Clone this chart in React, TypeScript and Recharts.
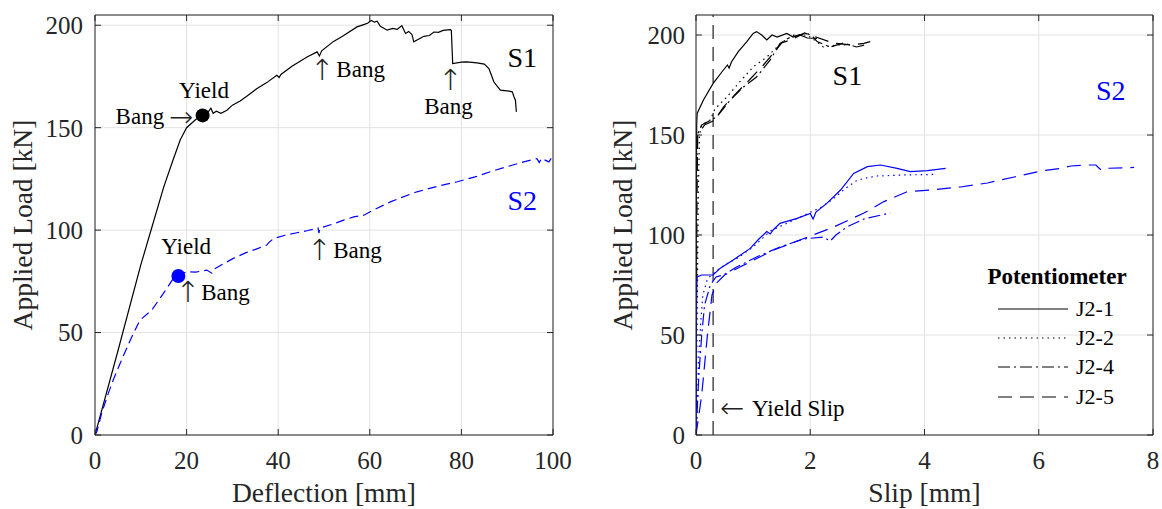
import React from 'react'
import {
  LineChart,
  Line,
  XAxis,
  YAxis,
  CartesianGrid,
  ReferenceDot,
  ReferenceLine,
  Legend,
} from 'recharts'

type Pt = [number, number]

// axis ticks
const DEFL_TICKS = [0, 20, 40, 60, 80, 100]
const LOAD_TICKS = [0, 50, 100, 150, 200]
const SLIP_TICKS = [0, 2, 4, 6, 8]

// left panel: load vs mid-span deflection
const S1_DEFL: Pt[] = [
  [0, 0], [5, 41], [10, 83], [12.5, 102], [15, 121], [17, 134], [18.6, 144], [20, 150],
  [22, 154], [23.5, 156], [24.5, 157], [25.3, 159.5], [25.8, 157], [26.5, 158], [27.5, 157],
  [28.8, 158.5], [30, 161], [31.7, 163], [33.5, 166], [35.3, 169], [37.5, 172], [39.7, 175.6],
  [40.2, 174.5], [40.6, 176], [43, 180], [46.3, 184.5], [48.5, 187], [49, 185], [49.5, 187.5],
  [52, 192], [54.3, 195], [57.2, 199.2], [58.5, 200.2], [59.5, 201], [60.3, 202.3], [61, 201.5],
  [61.6, 202], [62.3, 199.5], [63.8, 197.6], [65, 198.5], [66, 198], [67, 199.8], [67.8, 196],
  [68.5, 197], [69.2, 195.5], [69.6, 191.9], [71.8, 194.6], [73, 195], [74, 196.7], [75, 196.5],
  [76, 197.5], [77.6, 197.9], [77.8, 197.5], [78.1, 181.3], [80, 182], [81.2, 182.1],
  [83.4, 181.6], [85, 181], [86, 178.9], [86.5, 176], [87.1, 172.3], [88.5, 168.3], [90, 168],
  [91.1, 167.5], [91.5, 165], [91.8, 163.4], [92, 157.7],
]
const S2_DEFL: Pt[] = [
  [0, 0], [0.4, 1.6], [1.5, 11], [2.9, 20.3], [4, 27], [5.5, 35], [7.7, 46.3], [9.8, 56],
  [12.4, 61], [14.9, 69], [17.1, 76.4], [18.2, 77.6], [20, 79.7], [22, 79.5], [24.4, 80.5],
  [25.5, 79], [26, 81], [28, 83.5], [30.2, 86.2], [33, 89], [35.5, 91], [37.5, 92.7], [38, 94],
  [39, 95.9], [41.5, 97.5], [44.1, 98.7], [46.5, 99.8], [48.7, 101], [48.9, 98.5], [49.1, 101],
  [52, 103], [54.3, 104.9], [56.5, 106.5], [58.7, 107.3], [61, 110], [64.5, 113.8], [67, 116],
  [70.3, 118.7], [75, 121.5], [79.1, 123.6], [83, 126], [86.3, 128.5], [90, 131], [93.6, 133.3],
  [96.5, 134.9], [97, 133], [97.5, 135], [99.1, 133.3], [99.6, 135],
]
const S1_YIELD: Pt = [23.5, 156]
const S2_YIELD: Pt = [18.2, 77.6]

// right panel: load vs slip, potentiometers J2-1, J2-2, J2-4, J2-5
const S1_J21: Pt[] = [
  [0, 0], [0.004, 80], [0.008, 140], [0.012, 155], [0.02, 160.8], [0.13, 167.5], [0.3, 175.8],
  [0.48, 182.5], [0.55, 185], [0.58, 183.5], [0.62, 186.5], [0.74, 191.7], [0.89, 196.7],
  [1.0, 200.8], [1.06, 201.7], [1.15, 200], [1.24, 197.5], [1.33, 200], [1.42, 199],
  [1.59, 200.8], [1.7, 199], [1.82, 200], [1.95, 198.5], [2.12, 198.3],
]
const S1_J22: Pt[] = [
  [0, 0], [0.02, 60], [0.04, 120], [0.06, 150], [0.1, 155], [0.25, 157.5], [0.33, 163],
  [0.54, 169], [0.77, 176.7], [1.0, 184], [1.24, 189], [1.42, 194], [1.53, 196.7], [1.71, 200],
  [1.94, 200], [2.1, 197], [2.23, 194], [2.47, 195], [2.7, 195],
]
const S1_J24: Pt[] = [
  [0, 0], [0.01, 100], [0.02, 150], [0.1, 155], [0.36, 159], [0.6, 167.5], [0.83, 174],
  [1.06, 179], [1.3, 187.5], [1.47, 195.8], [1.65, 199], [1.8, 200], [1.94, 201], [2.05, 199],
  [2.12, 196.7], [2.35, 194], [2.58, 196], [2.81, 194], [2.95, 195],
]
const S1_J25: Pt[] = [
  [0, 0], [0.015, 120], [0.03, 150], [0.15, 155], [0.33, 157.5], [0.48, 164], [0.71, 171],
  [0.95, 178], [1.18, 185], [1.36, 191], [1.5, 196], [1.7, 198], [1.9, 201], [2.1, 199],
  [2.4, 196], [2.7, 195], [2.94, 195.8], [3.05, 196.7],
]
const S2_J21: Pt[] = [
  [0, 0], [0.005, 40], [0.01, 70], [0.02, 79], [0.1, 80], [0.3, 80], [0.42, 83.3], [0.65, 87.5],
  [0.95, 93.3], [1.1, 98], [1.24, 101.7], [1.3, 100.5], [1.35, 102.5], [1.47, 105.8],
  [1.77, 108.3], [2.0, 110.8], [2.05, 108], [2.1, 111.5], [2.29, 115.8], [2.53, 122.5],
  [2.76, 130.8], [3.0, 134.2], [3.23, 135], [3.52, 133.3], [3.75, 131.7], [4.05, 132.2],
  [4.37, 133.3],
]
const S2_J22: Pt[] = [
  [0, 0], [0.03, 20], [0.05, 40], [0.08, 55], [0.12, 70], [0.2, 78], [0.35, 82], [0.5, 85],
  [0.7, 88], [1.0, 94], [1.3, 102], [1.6, 106], [1.9, 110], [2.2, 114], [2.4, 118], [2.6, 123],
  [2.8, 127], [2.94, 128.3], [3.17, 129.5], [3.6, 130], [4.19, 130.3],
]
const S2_J24: Pt[] = [
  [0, 0], [0.05, 30], [0.1, 50], [0.15, 65], [0.25, 75], [0.35, 79], [0.48, 80], [0.71, 84],
  [1.06, 89], [1.47, 94], [1.88, 98], [2.23, 99], [2.35, 97], [2.45, 100], [2.64, 104],
  [2.94, 108], [3.4, 111],
]
const S2_J25: Pt[] = [
  [0, 0], [0.1, 20], [0.2, 50], [0.28, 70], [0.36, 76], [0.5, 80], [0.77, 84], [1.36, 92.5],
  [1.82, 97.5], [2.41, 104], [2.94, 111], [3.29, 116.7], [3.7, 121.7], [4.1, 122.5], [4.63, 124],
  [5.1, 126], [5.57, 129], [6.04, 132], [6.39, 133.3], [6.56, 134.5], [6.85, 135], [7.0, 135],
  [7.09, 132.5], [7.15, 133.3], [7.67, 133.8],
]
const YIELD_SLIP = 0.3

const POT_NAMES = ['J2-1', 'J2-2', 'J2-4', 'J2-5']
const POT_DASH = [undefined, '1.5 4', '12 4 2 4', '14 8']
const S1_SLIP = [S1_J21, S1_J22, S1_J24, S1_J25]
const S2_SLIP = [S2_J21, S2_J22, S2_J24, S2_J25]

const FONT = '"Liberation Serif", "Times New Roman", serif'
const ARROW_FONT = '"DejaVu Sans", sans-serif'
const AXIS = '#262626'
const BLUE = '#0000ff'

const rows = (pts: Pt[]) => pts.map(([x, y]) => ({ x, y }))

const xTitle = (text: string) => (props: any) => {
  const vb = props.viewBox || { x: 0, y: 0, width: 0, height: 0 }
  return (
    <text x={vb.x + vb.width / 2} y={vb.y + 67} textAnchor="middle" fontSize={27.5} fill={AXIS} fontFamily={FONT}>
      {text}
    </text>
  )
}

const yTitle = (text: string, dx: number) => (props: any) => {
  const vb = props.viewBox || { x: 0, y: 0, width: 0, height: 0 }
  const cx = vb.x + dx
  const cy = vb.y + vb.height / 2
  return (
    <text
      x={cx}
      y={cy}
      transform={`rotate(-90 ${cx} ${cy})`}
      textAnchor="middle"
      dominantBaseline="central"
      fontSize={27.5}
      fill={AXIS}
      fontFamily={FONT}
    >
      {text}
    </text>
  )
}

function frame(xTicks: number[], xMax: number, yMax: number, xLabel: string, yLabel: string, yW: number, yDx: number, yMargin: number) {
  const tick = { fontSize: 25, fill: AXIS, fontFamily: FONT }
  const line = { stroke: AXIS, strokeWidth: 1 }
  return [
    <CartesianGrid key="grid" stroke="#e2e2e2" strokeWidth={1} />,
    <XAxis
      key="xb"
      type="number"
      dataKey="x"
      domain={[0, xMax]}
      ticks={xTicks}
      allowDataOverflow
      height={74}
      tickSize={-6}
      tickMargin={22}
      tick={tick}
      axisLine={line}
      tickLine={line}
      label={xTitle(xLabel)}
    />,
    <XAxis
      key="xt"
      xAxisId="top"
      orientation="top"
      type="number"
      dataKey="x"
      domain={[0, xMax]}
      ticks={xTicks}
      allowDataOverflow
      height={1}
      tickSize={-6}
      tickFormatter={() => ''}
      axisLine={line}
      tickLine={line}
    />,
    <YAxis
      key="yl"
      type="number"
      domain={[0, yMax]}
      ticks={LOAD_TICKS}
      allowDataOverflow
      width={yW}
      tickSize={-6}
      tickMargin={yMargin}
      tick={tick}
      axisLine={line}
      tickLine={line}
      label={yTitle(yLabel, yDx)}
    />,
    <YAxis
      key="yr"
      yAxisId="right"
      orientation="right"
      type="number"
      domain={[0, yMax]}
      ticks={LOAD_TICKS}
      allowDataOverflow
      width={1}
      tickSize={-6}
      tickFormatter={() => ''}
      axisLine={line}
      tickLine={line}
    />,
  ]
}

function note(
  key: string,
  at: Pt,
  text: string,
  color = '#000',
  pos: 'center' | 'left' | 'right' = 'center',
  size = 23,
  family = FONT,
  weight: number | string = 'normal',
) {
  return (
    <ReferenceDot
      key={key}
      x={at[0]}
      y={at[1]}
      r={0}
      fill="none"
      stroke="none"
      label={{ value: text, position: pos, offset: 0, fill: color, fontSize: size, fontFamily: family, fontWeight: weight }}
    />
  )
}

const arrow = (key: string, at: Pt, glyph: string) => note(key, at, glyph, '#222', 'center', 29, ARROW_FONT, 200)

function PotLegend() {
  return (
    <div style={{ fontFamily: FONT, color: '#000', width: 140 }}>
      <div style={{ fontWeight: 'bold', fontSize: 23, lineHeight: '26px', textAlign: 'center' }}>Potentiometer</div>
      <div style={{ height: 4 }} />
      {POT_NAMES.map((n, i) => (
        <div key={n} style={{ display: 'flex', alignItems: 'center', height: 29.3 }}>
          <svg width={78} height={10} style={{ marginLeft: 11 }}>
            <line x1={0} y1={5} x2={70} y2={5} stroke="#000" strokeWidth={1} strokeDasharray={POT_DASH[i]} />
          </svg>
          <span style={{ fontSize: 22, lineHeight: '24px' }}>{n}</span>
        </div>
      ))}
    </div>
  )
}

export default function App() {
  const lineProps = { dot: false, activeDot: false, isAnimationActive: false, dataKey: 'y', strokeWidth: 1.2 } as const
  return (
    <div style={{ position: 'absolute', left: 0, top: 0, width: 1162, height: 509, background: '#fff', fontFamily: FONT }}>
      <div style={{ position: 'absolute', left: 0, top: 0 }}>
        <LineChart width={580} height={509} margin={{ top: 14, right: 26, bottom: 0, left: 0 }}>
          {frame(DEFL_TICKS, 100, 205, 'Deflection [mm]', 'Applied Load [kN]', 95, 22, 18)}
          <Line {...lineProps} data={rows(S1_DEFL)} stroke="#000" name="S1" />
          <Line {...lineProps} data={rows(S2_DEFL)} stroke={BLUE} strokeDasharray="9 5" name="S2" />
          <ReferenceDot x={S1_YIELD[0]} y={S1_YIELD[1]} r={7} fill="#000" stroke="none" />
          <ReferenceDot x={S2_YIELD[0]} y={S2_YIELD[1]} r={7} fill={BLUE} stroke="none" />
          {note('y1', [23.8, 168.3], 'Yield')}
          {note('b1', [15.1, 155.6], 'Bang', '#000', 'left')}
          {arrow('a1', [18.8, 155.6], '\u2192')}
          {arrow('a2', [49.6, 178.5], '\u2191')}
          {note('b2', [52.7, 178.5], 'Bang', '#000', 'right')}
          {arrow('a3', [77.6, 173.5], '\u2191')}
          {note('b3', [77.2, 160.5], 'Bang')}
          {note('s1', [93.3, 184.4], 'S1', '#000', 'center', 28)}
          {note('s2', [93.3, 114.6], 'S2', BLUE, 'center', 28)}
          {note('y2', [19.9, 92.2], 'Yield')}
          {arrow('a4', [20.3, 70], '\u2191')}
          {note('b4', [23.2, 70], 'Bang', '#000', 'right')}
          {arrow('a5', [49.0, 90.4], '\u2191')}
          {note('b5', [52.0, 90.4], 'Bang', '#000', 'right')}
        </LineChart>
      </div>
      <div style={{ position: 'absolute', left: 580, top: 0 }}>
        <LineChart width={582} height={509} margin={{ top: 14, right: 8, bottom: 0, left: 0 }}>
          {frame(SLIP_TICKS, 8, 210, 'Slip [mm]', 'Applied Load [kN]', 116, 42, 17)}
          <ReferenceLine x={YIELD_SLIP} stroke="#4d4d4d" strokeWidth={1.5} strokeDasharray="14 8" />
          {S1_SLIP.map((pts, i) => (
            <Line key={'s1' + i} {...lineProps} data={rows(pts)} stroke="#000" strokeDasharray={POT_DASH[i]} name={'S1 ' + POT_NAMES[i]} />
          ))}
          {S2_SLIP.map((pts, i) => (
            <Line key={'s2' + i} {...lineProps} data={rows(pts)} stroke={BLUE} strokeDasharray={POT_DASH[i]} name={'S2 ' + POT_NAMES[i]} />
          ))}
          {note('rs1', [2.65, 180], 'S1', '#000', 'center', 28)}
          {note('rs2', [7.26, 172.5], 'S2', BLUE, 'center', 28)}
          {arrow('ays', [0.63, 13.5], '\u2190')}
          {note('ys', [0.98, 13.5], 'Yield Slip', '#000', 'right')}
          <Legend
            layout="vertical"
            align="center"
            verticalAlign="middle"
            wrapperStyle={{ left: 407, top: 264, width: 140 }}
            content={() => <PotLegend />}
          />
        </LineChart>
      </div>
    </div>
  )
}
